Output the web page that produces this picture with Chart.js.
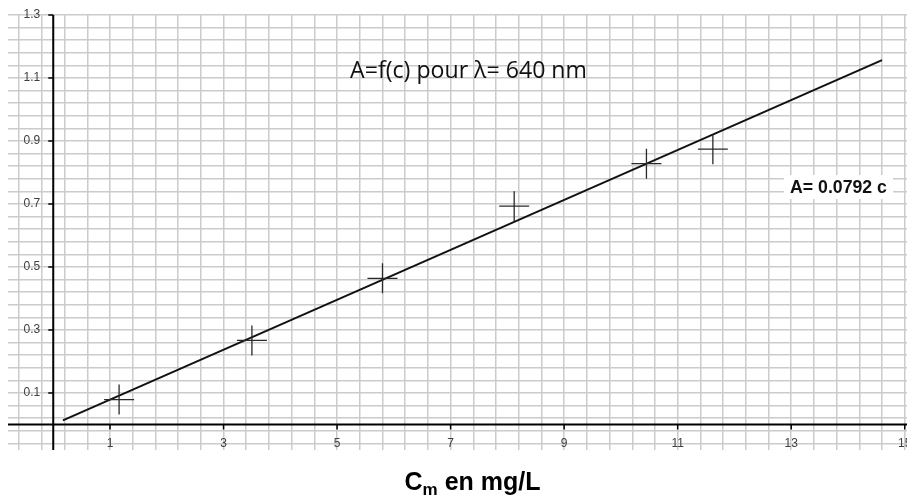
<!DOCTYPE html>
<html><head><meta charset="utf-8">
<script src="https://cdn.jsdelivr.net/npm/chart.js@4.4.0/dist/chart.umd.min.js"></script>
<style>html,body{margin:0;padding:0;background:#fff}canvas{display:block}</style>
</head><body>
<canvas id="c" width="907" height="497"></canvas>
<script>
// Measured points (concentration mg/L, absorbance)
const concentrations = [1.16, 3.50, 5.80, 8.12, 10.45, 11.62];
const absorbances = [0.079, 0.267, 0.464, 0.693, 0.828, 0.874];
// Fitted line end points
const fitConcentrations = [0.17, 14.60];
const fitAbsorbances = [0.013, 1.157];
// Tick labels
const xTickLabels = [1, 3, 5, 7, 9, 11, 13, 15];
const yTickLabels = [0.1, 0.3, 0.5, 0.7, 0.9, 1.1, 1.3];
// Texts
const chartTitle = 'A=f(c) pour λ= 640 nm';
const equationText = 'A= 0.0792 c';
const xTitleMain = 'C', xTitleSub = 'm', xTitleRest = ' en mg/L';

const pts = concentrations.map((c, i) => ({x: c, y: absorbances[i]}));
const fit = fitConcentrations.map((c, i) => ({x: c, y: fitAbsorbances[i]}));

function gridTicks(start, step, max) {
  return scale => {
    const t = [];
    for (let k = 0; ; k++) {
      const v = +(start + k * step).toFixed(3);
      if (v > max) break;
      t.push({value: v});
    }
    scale.ticks = t;
  };
}

function fitFont(ctx, text, weight, family, targetW) {
  ctx.font = weight + ' 20px ' + family;
  const w = ctx.measureText(text).width;
  const size = 20 * targetW / w;
  ctx.font = weight + ' ' + size.toFixed(2) + 'px ' + family;
  return size;
}

const axesPlugin = {
  id: 'axesPlugin',
  afterDraw(chart) {
    const {ctx, chartArea: a} = chart;
    const xs = chart.scales.x, ys = chart.scales.y;
    const x0 = xs.getPixelForValue(0), y0 = ys.getPixelForValue(0);
    ctx.save();
    ctx.strokeStyle = '#000';
    ctx.lineWidth = 2;
    ctx.beginPath();
    ctx.moveTo(x0, a.top); ctx.lineTo(x0, a.bottom);
    ctx.moveTo(a.left, y0); ctx.lineTo(a.right, y0);
    ctx.stroke();
    ctx.lineWidth = 1.5;
    ctx.fillStyle = '#404040';
    ctx.font = '12px "Liberation Sans", Arial, sans-serif';
    ctx.textAlign = 'right'; ctx.textBaseline = 'middle';
    yTickLabels.forEach(v => {
      const py = ys.getPixelForValue(v);
      ctx.beginPath(); ctx.moveTo(x0 - 5, py); ctx.lineTo(x0, py); ctx.stroke();
      ctx.fillText(v.toFixed(1), x0 - 13, py);
    });
    ctx.textAlign = 'center';
    xTickLabels.forEach(v => {
      const px = xs.getPixelForValue(v);
      ctx.beginPath(); ctx.moveTo(px, y0); ctx.lineTo(px, y0 + 5); ctx.stroke();
      ctx.fillText(String(v), px, y0 + 19);
    });
    // chart title annotation
    ctx.fillStyle = '#111';
    ctx.textAlign = 'center'; ctx.textBaseline = 'alphabetic';
    fitFont(ctx, chartTitle, 'normal', '"Open Sans", "Liberation Sans", sans-serif', 237);
    ctx.fillText(chartTitle, 468.5, 78);
    // equation label
    ctx.fillStyle = '#fff';
    ctx.fillRect(784, 175, 109, 24);
    ctx.fillStyle = '#111';
    fitFont(ctx, equationText, 'bold', '"Liberation Sans", Arial, sans-serif', 97);
    ctx.fillText(equationText, 838.5, 193);
    // x axis title with subscript
    ctx.fillStyle = '#000';
    ctx.textAlign = 'left'; ctx.textBaseline = 'alphabetic';
    const fMain = 'bold 25px "Liberation Sans", Arial, sans-serif';
    const fSub = 'bold 17px "Liberation Sans", Arial, sans-serif';
    ctx.font = fMain; const w1 = ctx.measureText(xTitleMain).width; const w3 = ctx.measureText(xTitleRest).width;
    ctx.font = fSub; const w2 = ctx.measureText(xTitleSub).width;
    let sx = 472.5 - (w1 + w2 + w3) / 2;
    ctx.font = fMain; ctx.fillText(xTitleMain, sx, 490); sx += w1;
    ctx.font = fSub; ctx.fillText(xTitleSub, sx, 495); sx += w2;
    ctx.font = fMain; ctx.fillText(xTitleRest, sx, 490);
    ctx.restore();
  }
};

new Chart(document.getElementById('c'), {
  type: 'scatter',
  data: {
    datasets: [
      {data: fit, showLine: true, pointRadius: 0, borderColor: '#111', borderWidth: 2, order: 2},
      {data: pts, pointStyle: 'cross', pointRadius: 15, pointHoverRadius: 15, borderColor: '#2a2a2a', borderWidth: 1.3, order: 1}
    ]
  },
  options: {
    responsive: false,
    animation: false,
    layout: {autoPadding: false, padding: {left: 8, top: 15, right: 0, bottom: 47}},
    plugins: {legend: {display: false}, tooltip: {enabled: false}},
    scales: {
      x: {
        type: 'linear', min: -0.797, max: 15.04,
        afterBuildTicks: gridTicks(-0.6, 0.4, 15.04),
        ticks: {display: false},
        grid: {color: '#cbcbcb', lineWidth: 1.5, drawTicks: false},
        border: {display: false}
      },
      y: {
        type: 'linear', min: -0.081, max: 1.3,
        afterBuildTicks: gridTicks(-0.06, 0.04, 1.301),
        ticks: {display: false},
        grid: {color: '#cbcbcb', lineWidth: 1.5, drawTicks: false},
        border: {display: false}
      }
    }
  },
  plugins: [axesPlugin]
});
</script>
</body></html>
